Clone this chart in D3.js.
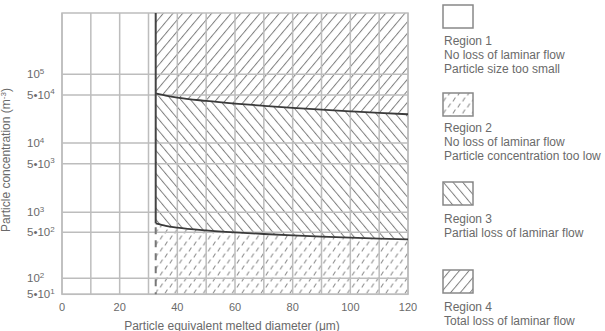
<!DOCTYPE html>
<html><head><meta charset="utf-8">
<script src="https://cdn.jsdelivr.net/npm/d3@7/dist/d3.min.js"></script>
<style>body{margin:0;background:#fff}svg{display:block;font-family:"Liberation Sans",Arial,sans-serif}</style>
</head><body><svg id="c" width="605" height="331"></svg>
<script>
// ---- data ----
const xTicks = [0, 20, 40, 60, 80, 100, 120];
const xGrid = [0, 10, 20, 30, 40, 50, 60, 70, 80, 90, 100, 110, 120];
const yGridVals = [50, 100, 500, 1000, 5000, 10000, 50000, 100000];
const yLabels = [
  {v: 100000, pre: "", base: "10", exp: "5"},
  {v: 50000, pre: "5•", base: "10", exp: "4"},
  {v: 10000, pre: "", base: "10", exp: "4"},
  {v: 5000, pre: "5•", base: "10", exp: "3"},
  {v: 1000, pre: "", base: "10", exp: "3"},
  {v: 500, pre: "5•", base: "10", exp: "2"},
  {v: 100, pre: "", base: "10", exp: "2"},
  {v: 50, pre: "5•", base: "10", exp: "1"}
];
const boundaryX = 32.5;
const curveX = [32.5, 36, 40, 50, 60, 70, 80, 90, 100, 110, 120];
const upperCurve = [52900, 49100, 45800, 41000, 37500, 34800, 32500, 30600, 28900, 27400, 26200];
const lowerCurve = [681, 624, 587, 532, 496, 469, 447, 428, 412, 400, 389];
const yMin = 50, yMax = 780000;
const legendItems = [
  {fill: "none", lines: ["Region 1", "No loss of laminar flow", "Particle size too small"]},
  {fill: "url(#dash)", lines: ["Region 2", "No loss of laminar flow", "Particle concentration too low"]},
  {fill: "url(#back)", lines: ["Region 3", "Partial loss of laminar flow"]},
  {fill: "url(#fwd)", lines: ["Region 4", "Total loss of laminar flow"]}
];
const xTitle = "Particle equivalent melted diameter (μm)";

// ---- layout ----
const svg = d3.select("#c");
const L = 62, R = 408, T = 13, B = 294.3;
const x = d3.scaleLinear().domain([0, 120]).range([L, R]);
const y = d3.scaleLog().domain([yMin, 100, 1000, 10000, 100000, yMax])
  .range([B, 278.3, 212.3, 143, 74.3, T]);

const gridC = "#bdbdbd", hatchC = "#808080", textC = "#6a6a6a";

const defs = svg.append("defs");
function hatch(id, rot) {
  const p = defs.append("pattern").attr("id", id).attr("patternUnits", "userSpaceOnUse")
    .attr("width", 7.4).attr("height", 7.4).attr("patternTransform", `rotate(${rot})`);
  p.append("line").attr("x1", 0.5).attr("y1", 0).attr("x2", 0.5).attr("y2", 7.4)
    .attr("stroke", hatchC).attr("stroke-width", 1);
}
hatch("fwd", 40);
hatch("back", -40);
const dp = defs.append("pattern").attr("id", "dash").attr("patternUnits", "userSpaceOnUse")
  .attr("width", 9.6).attr("height", 12);
[[1.8, 5.5, 4.2, 1.5], [6.6, 11.5, 9, 7.5]].forEach(d =>
  dp.append("line").attr("x1", d[0]).attr("y1", d[1]).attr("x2", d[2]).attr("y2", d[3])
    .attr("stroke", "#8a8a8a").attr("stroke-width", 1));

const pts = curveX.map((cx, i) => ({x: cx, u: upperCurve[i], l: lowerCurve[i]}));
const crv = d3.curveMonotoneX;
// region 4
svg.append("path").attr("fill", "url(#fwd)")
  .attr("d", d3.area().x(d => x(d.x)).y0(d => y(d.u)).y1(T).curve(crv)(pts));
// region 3
svg.append("path").attr("fill", "url(#back)")
  .attr("d", d3.area().x(d => x(d.x)).y0(d => y(d.l)).y1(d => y(d.u)).curve(crv)(pts));
// region 2
svg.append("path").attr("fill", "url(#dash)")
  .attr("d", d3.area().x(d => x(d.x)).y0(B).y1(d => y(d.l)).curve(crv)(pts));

// grid
svg.append("g").selectAll("line").data(xGrid).join("line")
  .attr("x1", d => x(d)).attr("x2", d => x(d)).attr("y1", T).attr("y2", B)
  .attr("stroke", gridC).attr("stroke-width", 1.5);
svg.append("g").selectAll("line").data(yGridVals).join("line")
  .attr("x1", L).attr("x2", R).attr("y1", d => y(d)).attr("y2", d => y(d))
  .attr("stroke", gridC).attr("stroke-width", 1.5);
svg.append("rect").attr("x", L).attr("y", T).attr("width", R - L).attr("height", B - T)
  .attr("fill", "none").attr("stroke", gridC).attr("stroke-width", 1.5);

// boundaries
svg.append("path").attr("fill", "none").attr("stroke", "#3a3a3a").attr("stroke-width", 1.8)
  .attr("d", d3.line().x(d => x(d.x)).y(d => y(d.u)).curve(crv)(pts));
svg.append("path").attr("fill", "none").attr("stroke", "#3a3a3a").attr("stroke-width", 1.8)
  .attr("d", d3.line().x(d => x(d.x)).y(d => y(d.l)).curve(crv)(pts));
svg.append("line").attr("x1", x(boundaryX)).attr("x2", x(boundaryX))
  .attr("y1", T).attr("y2", y(lowerCurve[0]))
  .attr("stroke", "#444").attr("stroke-width", 2);
svg.append("line").attr("x1", x(boundaryX)).attr("x2", x(boundaryX))
  .attr("y1", y(lowerCurve[0]) + 4).attr("y2", B)
  .attr("stroke", "#777").attr("stroke-width", 2).attr("stroke-dasharray", "7,6");

// x tick labels
svg.append("g").selectAll("text").data(xTicks).join("text")
  .attr("x", d => x(d)).attr("y", 311).attr("text-anchor", "middle")
  .attr("font-size", 11).attr("fill", textC).text(d => d);
svg.append("text").attr("x", 232).attr("y", 329.5).attr("text-anchor", "middle")
  .attr("font-size", 12).attr("fill", textC).text(xTitle);

// y labels
const yl = svg.append("g").selectAll("text").data(yLabels).join("text")
  .attr("x", 27).attr("y", d => y(d.v) + 4).attr("font-size", 11.5).attr("fill", textC);
yl.append("tspan").text(d => d.pre + d.base);
yl.append("tspan").attr("font-size", 8).attr("dy", -4.5).text(d => d.exp);

const yt = svg.append("text").attr("transform", "translate(10,160) rotate(-90)")
  .attr("text-anchor", "middle").attr("font-size", 12).attr("fill", textC);
yt.append("tspan").text("Particle concentration (m");
yt.append("tspan").attr("font-size", 8).attr("dy", -4).text("-3");
yt.append("tspan").attr("dy", 4).text(")");

// legend
const boxY = [5, 93, 182, 270];
const textY = [[44.5, 59, 73], [132, 146, 160], [223, 236.5], [311, 324.5]];
legendItems.forEach((it, i) => {
  svg.append("rect").attr("x", 443).attr("y", boxY[i]).attr("width", 30).attr("height", 23)
    .attr("fill", it.fill === "none" ? "#fff" : it.fill).attr("stroke", "#888").attr("stroke-width", 1.5);
  it.lines.forEach((t, j) => {
    svg.append("text").attr("x", 444).attr("y", textY[i][j]).attr("font-size", 12)
      .attr("fill", textC).text(t);
  });
});
</script></body></html>
